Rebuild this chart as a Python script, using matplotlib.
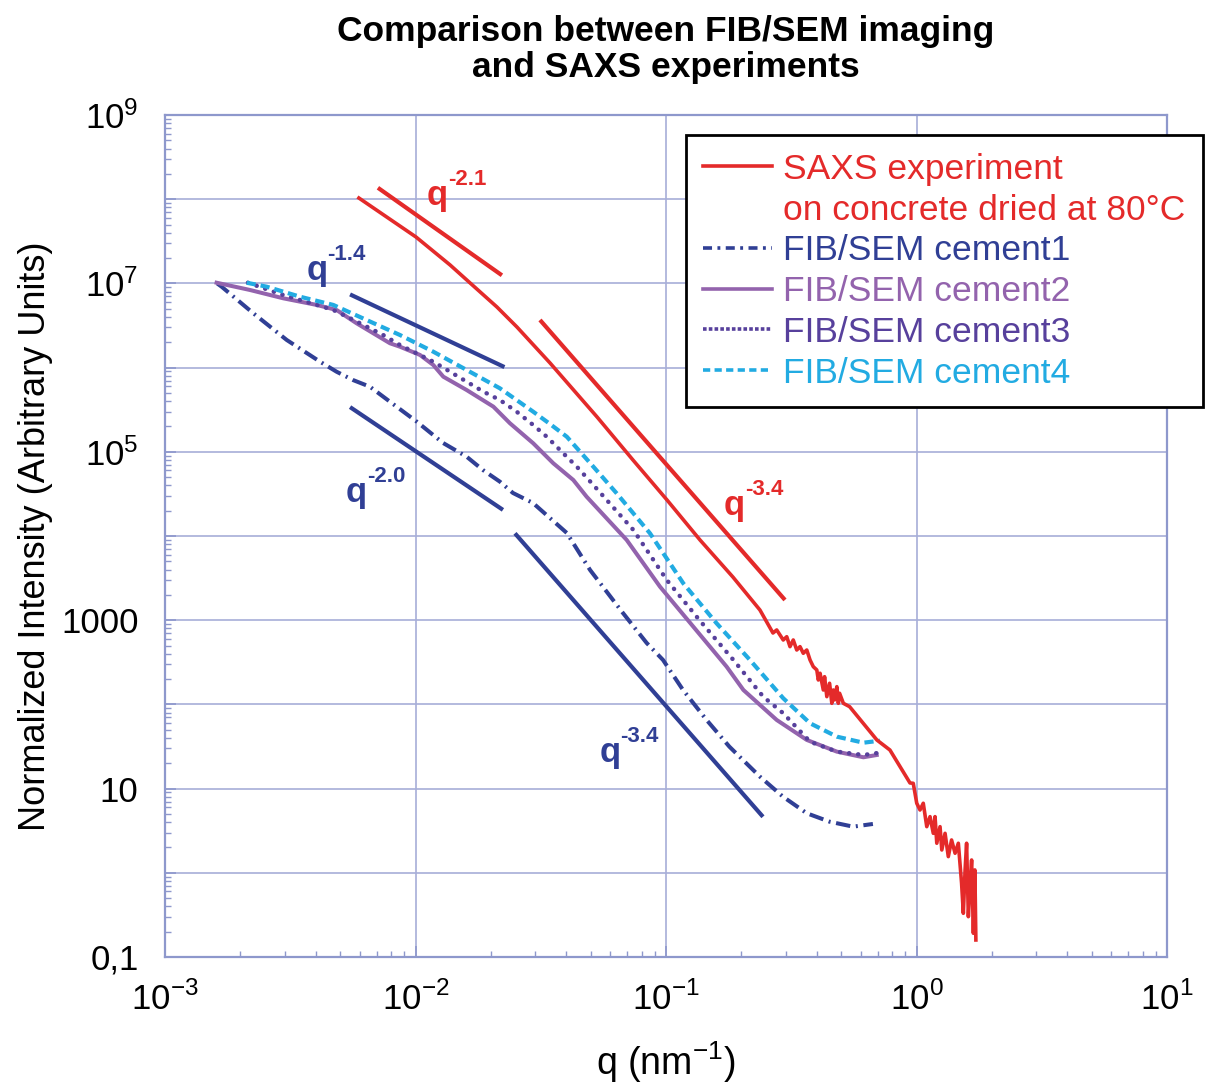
import numpy as np
import matplotlib
matplotlib.use("Agg")
import matplotlib.pyplot as plt
from matplotlib import font_manager
from matplotlib.lines import Line2D
from matplotlib.ticker import FixedLocator, LogLocator, NullFormatter, FuncFormatter

# ---------------------------------------------------------------- data
# SAXS curve (log10 q [nm^-1], log10 intensity)
saxs_log_q = [-2.226, -1.998, -1.862, -1.782, -1.675, -1.595, -1.463, -1.275,
              -1.132, -0.996, -0.864, -0.733, -0.625, -0.573,
              -0.558, -0.532, -0.518, -0.505, -0.492, -0.478, -0.465, -0.452,
              -0.438, -0.425, -0.412, -0.398, -0.392, -0.385, -0.372, -0.367,
              -0.358, -0.347, -0.338, -0.332, -0.327, -0.318, -0.312, -0.307,
              -0.292, -0.267, -0.158, -0.106, -0.026,
              -0.013, 0.001, 0.014, 0.027, 0.041, 0.054, 0.067, 0.074, 0.081,
              0.094, 0.101, 0.114, 0.127, 0.140, 0.154, 0.167, 0.180, 0.187,
              0.194, 0.200, 0.207, 0.214, 0.220, 0.227, 0.233, 0.237]
saxs_log_I = [8.014, 7.551, 7.219, 7.005, 6.720, 6.482, 6.055, 5.413,
              4.903, 4.428, 3.952, 3.513, 3.121, 2.848,
              2.884, 2.765, 2.804, 2.686, 2.765, 2.646, 2.686, 2.607,
              2.646, 2.528, 2.448, 2.409, 2.290, 2.370, 2.171, 2.329,
              2.092, 2.251, 2.013, 2.171, 2.053, 2.211, 2.013, 2.132,
              2.013, 1.973, 1.577, 1.458, 1.067,
              1.063, 0.826, 0.746, 0.826, 0.548, 0.667, 0.469, 0.667, 0.351,
              0.548, 0.271, 0.469, 0.192, 0.390, 0.232, 0.351, -0.124, -0.481,
              0.034, 0.351, -0.521, -0.124, 0.152, -0.718, 0.034, -0.798]

# FIB/SEM curves (log10 q, log10 intensity)
c1_log_q = [-2.792, -2.774, -2.649, -2.514, -2.381, -2.315, -2.250, -2.182,
            -2.102, -1.995, -1.890, -1.796, -1.731, -1.663, -1.611, -1.531,
            -1.396, -1.303, -1.172, -1.077, -1.012, -0.932, -0.838, -0.747,
            -0.625, -0.533, -0.438, -0.347, -0.253, -0.174]
c1_log_I = [7.000, 6.961, 6.649, 6.328, 6.070, 5.951, 5.853, 5.773,
            5.595, 5.358, 5.105, 4.942, 4.784, 4.645, 4.511, 4.392,
            4.036, 3.596, 3.086, 2.729, 2.528, 2.171, 1.815, 1.498,
            1.142, 0.904, 0.707, 0.607, 0.548, 0.580]

c2_log_q = [-2.794, -2.661, -2.528, -2.394, -2.315, -2.235, -2.102, -2.062,
            -1.982, -1.929, -1.889, -1.796, -1.689, -1.623, -1.530, -1.450,
            -1.370, -1.317, -1.157, -1.024, -0.891, -0.758, -0.691, -0.558,
            -0.438, -0.318, -0.212, -0.159]
c2_log_I = [7.008, 6.922, 6.823, 6.744, 6.684, 6.526, 6.289, 6.248,
            6.150, 6.031, 5.892, 5.734, 5.536, 5.339, 5.101, 4.864,
            4.665, 4.467, 3.953, 3.398, 2.923, 2.448, 2.171, 1.815,
            1.578, 1.439, 1.372, 1.399]

c3_log_q = [-2.669, -2.528, -2.394, -2.328, -2.261, -2.129, -2.062, -1.929,
            -1.862, -1.796, -1.729, -1.663, -1.596, -1.530, -1.476, -1.410,
            -1.356, -1.290, -1.130, -0.997, -0.867, -0.731, -0.612, -0.532,
            -0.425, -0.318, -0.212, -0.146]
c3_log_I = [7.008, 6.862, 6.744, 6.684, 6.586, 6.387, 6.268, 6.070,
            5.951, 5.833, 5.714, 5.615, 5.476, 5.318, 5.179, 4.982,
            4.823, 4.606, 4.071, 3.478, 3.003, 2.528, 2.092, 1.895,
            1.557, 1.439, 1.399, 1.427]

c4_log_q = [-2.674, -2.594, -2.461, -2.328, -2.195, -2.062, -1.929, -1.796,
            -1.663, -1.530, -1.463, -1.396, -1.290, -1.197, -1.064, -0.931,
            -0.798, -0.665, -0.532, -0.425, -0.318, -0.212, -0.146]
c4_log_I = [7.008, 6.961, 6.842, 6.744, 6.565, 6.387, 6.189, 5.972,
            5.754, 5.476, 5.330, 5.179, 4.823, 4.507, 4.032, 3.438,
            2.963, 2.528, 2.073, 1.776, 1.617, 1.545, 1.569]

# power-law guide lines I ~ q^n
guide_exponents = [-2.1, -3.4, -1.4, -2.0, -3.4]
guide_q_start = [0.00708, 0.0314, 0.00548, 0.00548, 0.02495]
guide_q_end = [0.02213, 0.2985, 0.02265, 0.02234, 0.2438]
guide_I_mid = [4.13e7, 8.0e4, 2.74e6, 8.33e4, 223.0]
guide_labels = ["-2.1", "-3.4", "-1.4", "-2.0", "-3.4"]
# label anchor (q, I) for the letter q
guide_label_q = [0.0111, 0.1706, 0.00368, 0.00528, 0.0541]
guide_label_I = [8.5e7, 1.78e4, 1.1e7, 2.54e4, 20.7]

series_labels = ["SAXS experiment", "on concrete dried at 80\u00b0C",
                 "FIB/SEM cement1", "FIB/SEM cement2",
                 "FIB/SEM cement3", "FIB/SEM cement4"]

y_tick_exponents = [-1, 0, 1, 2, 3, 4, 5, 6, 7, 8, 9]
y_tick_text = {9: "$\\mathsf{10^{9}}$", 7: "$\\mathsf{10^{7}}$",
               5: "$\\mathsf{10^{5}}$", 3: "1000", 1: "10", -1: "0,1"}
x_tick_exponents = [-3, -2, -1, 0, 1]

# ---------------------------------------------------------------- style
RED = "#e42a2a"
NAVY = "#303f95"
PURPLE = "#9363ad"
DPURPLE = "#57409c"
CYAN = "#22abe2"
GRID = "#a7aed8"
SPINE = "#8e98cc"

names = {f.name for f in font_manager.fontManager.ttflist}
NARROW = "Liberation Sans Narrow" if "Liberation Sans Narrow" in names else "Liberation Sans"
plt.rcParams["font.family"] = ["Liberation Sans", "DejaVu Sans"]
plt.rcParams["mathtext.fontset"] = "custom"
plt.rcParams["mathtext.rm"] = NARROW
plt.rcParams["mathtext.sf"] = "Liberation Sans"
plt.rcParams["mathtext.bf"] = "Liberation Sans:bold"

fig = plt.figure(figsize=(12.05, 10.84), dpi=100)
ax = fig.add_axes([165 / 1205, 1 - 957 / 1084, (1167 - 165) / 1205, (957 - 115) / 1084])
ax.set_xscale("log")
ax.set_yscale("log")
ax.set_xlim(1e-3, 1e1)
ax.set_ylim(1e-1, 1e9)

# grid and frame
for s in ax.spines.values():
    s.set_color(SPINE)
    s.set_linewidth(1.6)
ax.grid(True, which="major", color=GRID, linewidth=1.2)
ax.set_axisbelow(True)

ax.yaxis.set_major_locator(FixedLocator([10.0 ** e for e in y_tick_exponents]))
ax.yaxis.set_major_formatter(FuncFormatter(
    lambda v, p: y_tick_text.get(int(round(np.log10(v))), "")))
ax.yaxis.set_minor_locator(LogLocator(base=10, subs=np.arange(2, 10), numticks=20))
ax.yaxis.set_minor_formatter(NullFormatter())
ax.xaxis.set_major_locator(FixedLocator([10.0 ** e for e in x_tick_exponents]))
ax.xaxis.set_major_formatter(FuncFormatter(
    lambda v, p: "$10^{%d}$" % int(round(np.log10(v)))))
ax.xaxis.set_minor_locator(LogLocator(base=10, subs=np.arange(2, 10), numticks=20))
ax.xaxis.set_minor_formatter(NullFormatter())
ax.tick_params(which="both", direction="in", color=SPINE)
ax.tick_params(which="major", length=8, width=1.2)
ax.tick_params(which="minor", length=4, width=1.0)
ax.tick_params(axis="y", labelsize=25, pad=19)
ax.tick_params(axis="x", labelsize=25, pad=18)

# power-law guides
for n, qa, qb, imid, txt, lq, li, col in zip(
        guide_exponents, guide_q_start, guide_q_end, guide_I_mid,
        guide_labels, guide_label_q, guide_label_I,
        [RED, RED, NAVY, NAVY, NAVY]):
    qg = np.array([qa, qb])
    qm = np.sqrt(qa * qb)
    ax.plot(qg, imid * (qg / qm) ** n, color=col, lw=3.0,
            solid_capstyle="butt", zorder=3)
    ax.text(lq, li, "q", color=col, fontsize=25, fontweight="bold",
            ha="left", va="baseline", zorder=5)
    ax.annotate(txt, xy=(lq, li), xytext=(15, 14.5), textcoords="offset points",
                color=col, fontsize=16, fontweight="bold",
                ha="left", va="baseline", zorder=5)

# FIB/SEM curves
s1 = (0, (3.6, 1.4, 0.5, 1.4))
s3 = (0, (0.05, 2.0))
s4 = (0, (2.2, 1.2))
ax.plot(10.0 ** np.array(c1_log_q), 10.0 ** np.array(c1_log_I), color=NAVY,
        lw=2.9, linestyle=s1, zorder=4)
ax.plot(10.0 ** np.array(c2_log_q), 10.0 ** np.array(c2_log_I), color=PURPLE,
        lw=2.9, zorder=4)
ax.plot(10.0 ** np.array(c3_log_q), 10.0 ** np.array(c3_log_I), color=DPURPLE,
        lw=3.2, linestyle=s3, dash_capstyle="round", zorder=4)
ax.plot(10.0 ** np.array(c4_log_q), 10.0 ** np.array(c4_log_I), color=CYAN,
        lw=3.0, linestyle=s4, zorder=4)

# SAXS curve
ax.plot(10.0 ** np.array(saxs_log_q), 10.0 ** np.array(saxs_log_I), color=RED,
        lw=2.6, zorder=4)

# legend
handles = [
    Line2D([], [], color=RED, lw=2.6),
    Line2D([], [], color="none", lw=0),
    Line2D([], [], color=NAVY, lw=2.6, linestyle=(0, (2.5, 1.5, 0.8, 1.5))),
    Line2D([], [], color=PURPLE, lw=2.6),
    Line2D([], [], color=DPURPLE, lw=2.6, linestyle=(0, (1.0, 0.6))),
    Line2D([], [], color=CYAN, lw=2.6, linestyle=(0, (2.0, 1.2))),
]
leg = ax.legend(handles, series_labels, loc="upper right",
                bbox_to_anchor=(1203 / 1205, 1 - 135 / 1084),
                bbox_transform=fig.transFigure, fontsize=25.5,
                frameon=True, fancybox=False, edgecolor="black",
                framealpha=1.0, borderpad=0.5, labelspacing=0.22,
                handlelength=1.95, handletextpad=0.3, borderaxespad=0)
leg.get_frame().set_linewidth(2.0)
for t, c in zip(leg.get_texts(), [RED, RED, NAVY, PURPLE, DPURPLE, CYAN]):
    t.set_color(c)
leg.set_zorder(6)

# titles and axis labels
ax.set_title("Comparison between FIB/SEM imaging\nand SAXS experiments",
             fontsize=25.5, fontweight="bold", family=[NARROW, "Liberation Sans"],
             pad=27, linespacing=1.12)
ax.set_ylabel("Normalized Intensity (Arbitrary Units)", fontsize=26,
              family=[NARROW, "Liberation Sans"], labelpad=6)
ax.set_xlabel("q (nm$^{-1}$)", fontsize=27, family=[NARROW, "Liberation Sans"],
              labelpad=16)

fig.savefig("out.png", dpi=100)
